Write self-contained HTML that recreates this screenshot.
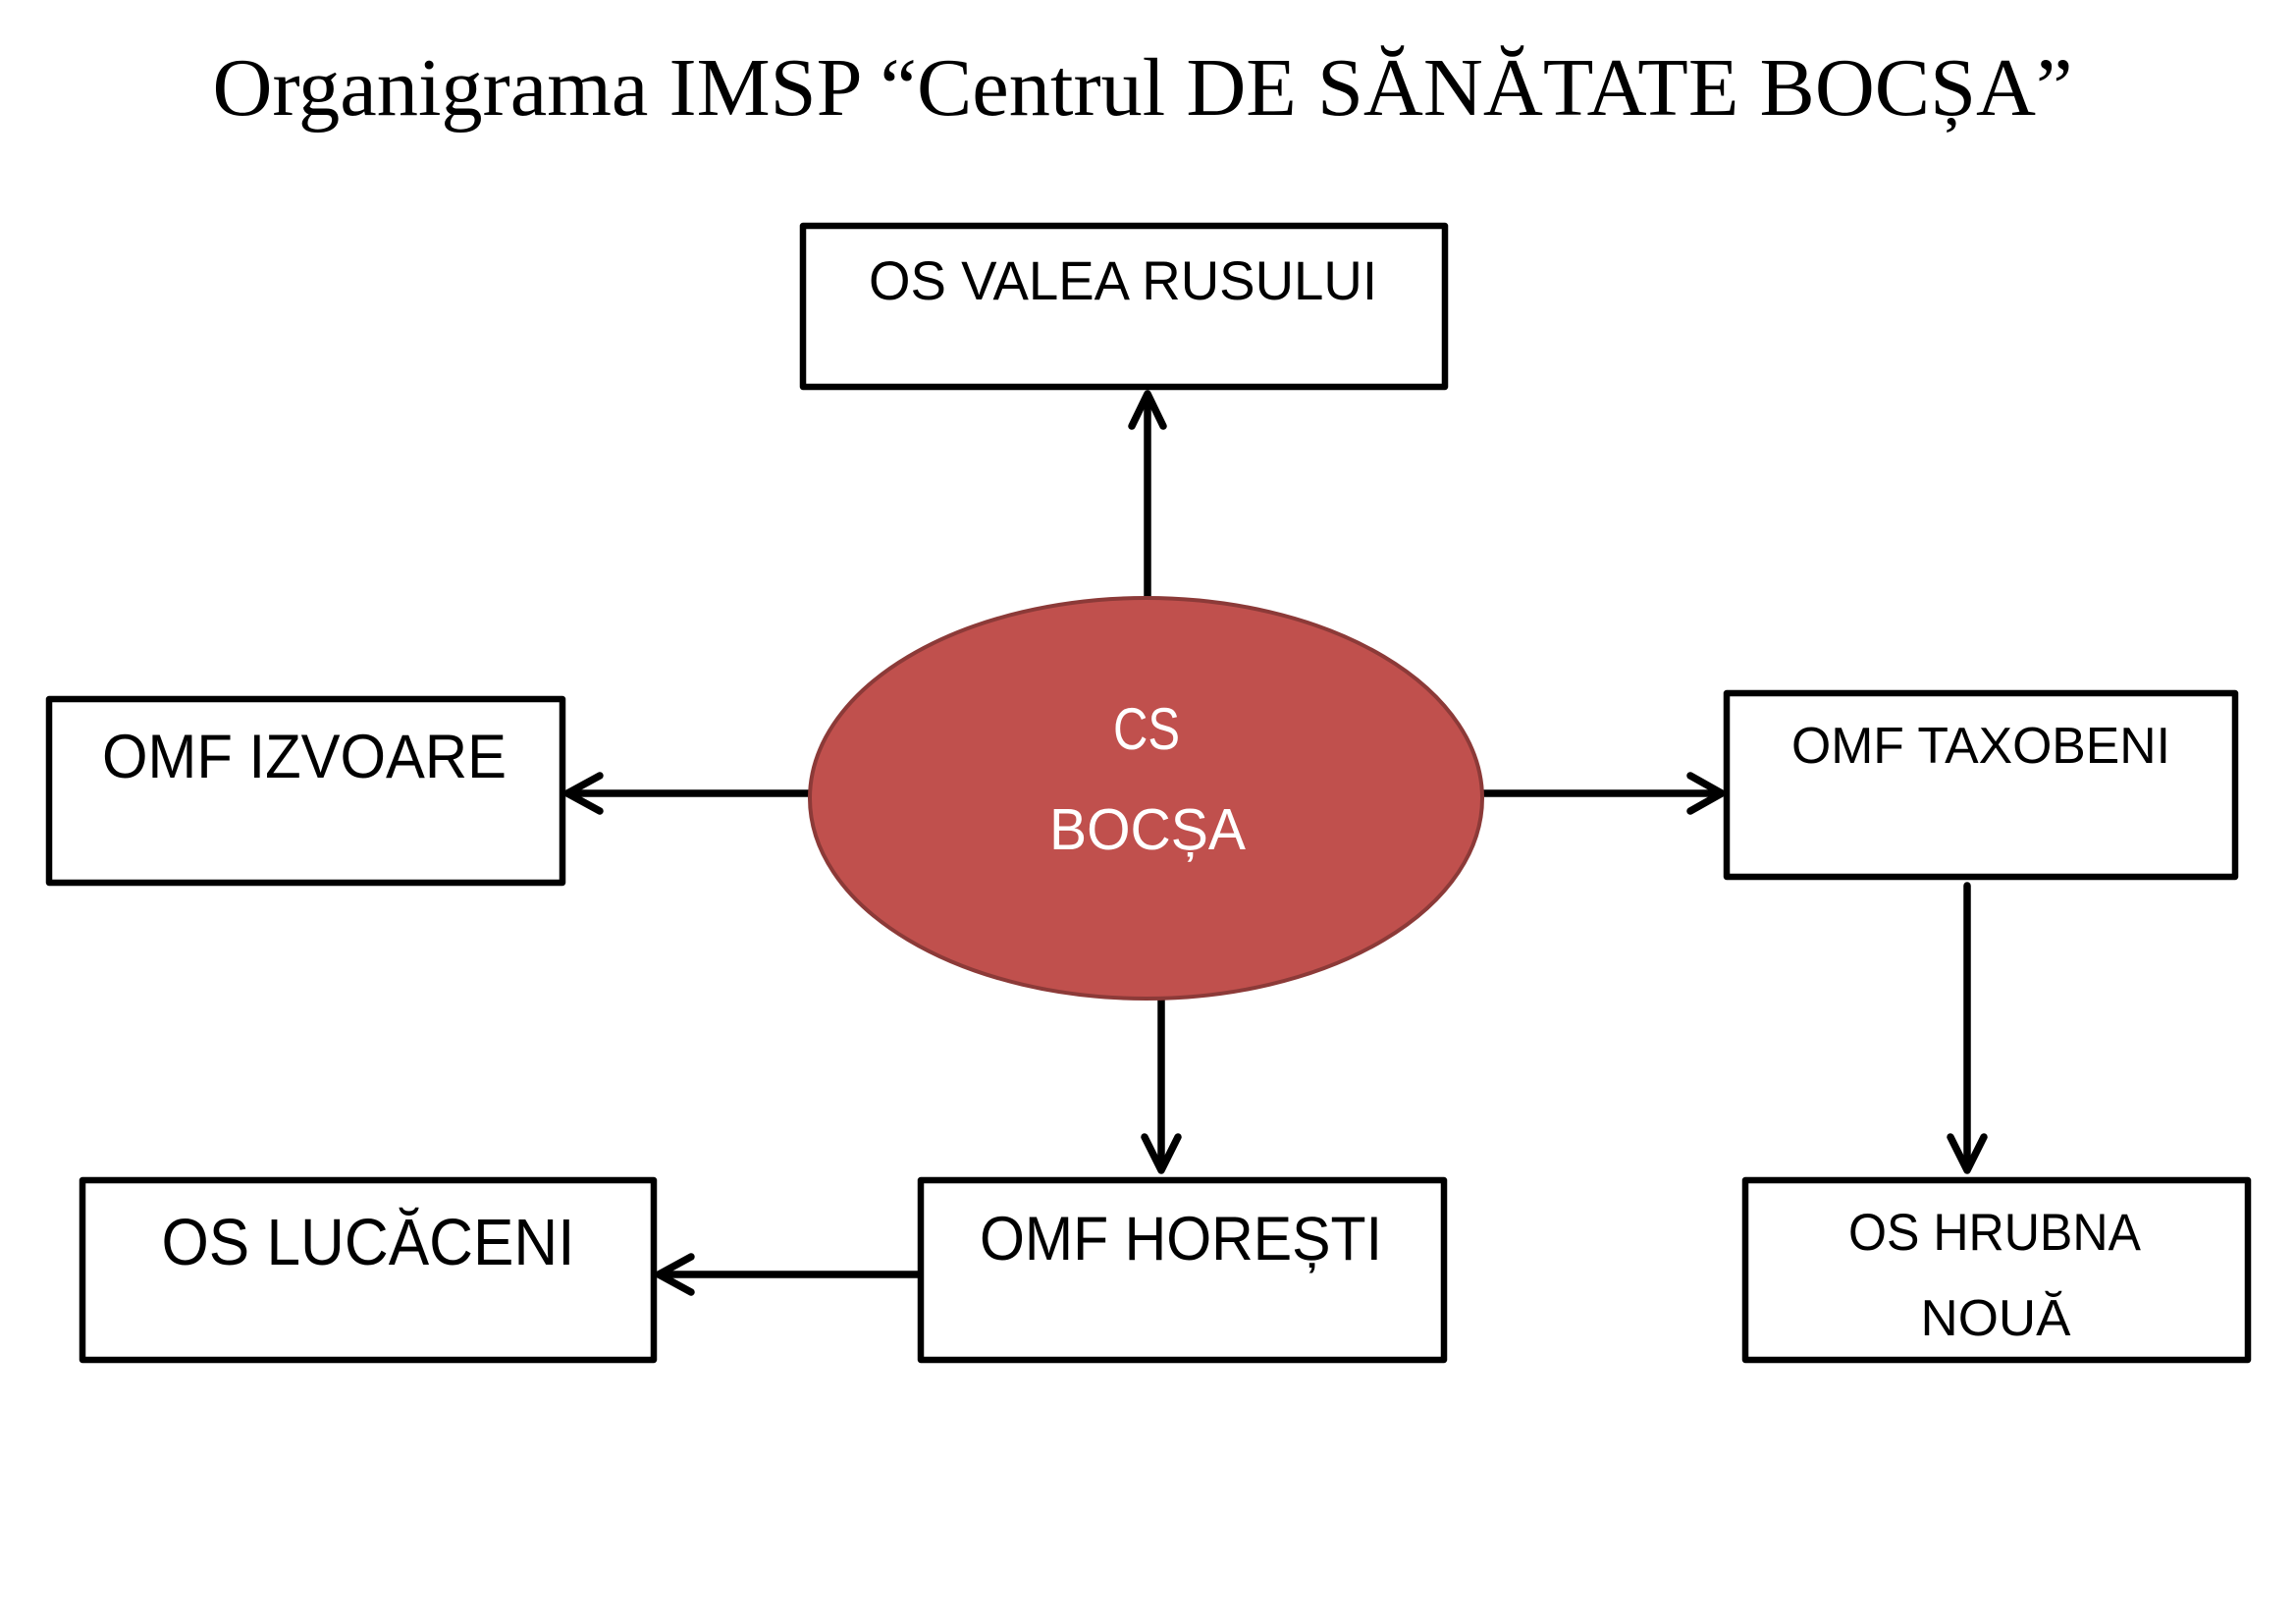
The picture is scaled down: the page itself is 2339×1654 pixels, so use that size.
<!DOCTYPE html>
<html>
<head>
<meta charset="utf-8">
<style>
  html,body{margin:0;padding:0;background:#fff;}
  svg{display:block;}
  .t{font-family:"Liberation Sans",sans-serif;fill:#000;}
</style>
</head>
<body>
<svg width="2339" height="1654" viewBox="0 0 2339 1654" xmlns="http://www.w3.org/2000/svg">
  <rect width="2339" height="1654" fill="#fff"/>

  <!-- Title -->
  <text x="1164" y="117" text-anchor="middle" font-family="'Liberation Serif',serif" font-size="84" textLength="1895" lengthAdjust="spacingAndGlyphs" fill="#000">Organigrama IMSP “Centrul DE SĂNĂTATE BOCȘA”</text>

  <!-- Boxes -->
  <g fill="#fff" stroke="#000" stroke-width="6.5" stroke-linejoin="round">
    <rect x="818" y="230" width="654" height="164"/>
    <rect x="50" y="712" width="523" height="187"/>
    <rect x="1759" y="706" width="518" height="187"/>
    <rect x="84" y="1202" width="582" height="183"/>
    <rect x="938" y="1202" width="533" height="183"/>
    <rect x="1778" y="1202" width="512" height="183"/>
  </g>

  <!-- Connectors -->
  <g fill="none" stroke="#000" stroke-width="7.5" stroke-linecap="round" stroke-linejoin="round">
    <!-- up to VALEA RUSULUI -->
    <line x1="1169" y1="612" x2="1169" y2="403"/>
    <polyline points="1153,434 1169,401 1185,434"/>
    <!-- left to IZVOARE -->
    <line x1="826" y1="808" x2="580" y2="808"/>
    <polyline points="611,790 578,808 611,826"/>
    <!-- right to TAXOBENI -->
    <line x1="1508" y1="808" x2="1752" y2="808"/>
    <polyline points="1722,790 1754,808 1722,826"/>
    <!-- down to HORESTI -->
    <line x1="1183" y1="1016" x2="1183" y2="1190"/>
    <polyline points="1166,1158 1183,1192 1200,1158"/>
    <!-- TAXOBENI down to HRUBNA -->
    <line x1="2004" y1="902" x2="2004" y2="1190"/>
    <polyline points="1987,1158 2004,1192 2021,1158"/>
    <!-- HORESTI left to LUCACENI -->
    <line x1="935" y1="1298" x2="673" y2="1298"/>
    <polyline points="704,1280 671,1298 704,1316"/>
  </g>

  <!-- Central ellipse -->
  <ellipse cx="1167.5" cy="813" rx="342.5" ry="204" fill="#c0504d" stroke="#8c3a38" stroke-width="4"/>

  <!-- Labels -->
  <text class="t" x="1144" y="305" text-anchor="middle" font-size="56" textLength="518" lengthAdjust="spacingAndGlyphs">OS VALEA RUSULUI</text>
  <text class="t" x="310" y="792" text-anchor="middle" font-size="63" textLength="412" lengthAdjust="spacingAndGlyphs">OMF IZVOARE</text>
  <text class="t" x="2018" y="777" text-anchor="middle" font-size="52" textLength="386" lengthAdjust="spacingAndGlyphs">OMF TAXOBENI</text>
  <text class="t" x="1168" y="763" text-anchor="middle" font-size="60" textLength="68" lengthAdjust="spacingAndGlyphs" style="fill:#fff">CS</text>
  <text class="t" x="1169" y="865" text-anchor="middle" font-size="59" textLength="200" lengthAdjust="spacingAndGlyphs" style="fill:#fff">BOCȘA</text>
  <text class="t" x="375" y="1288" text-anchor="middle" font-size="67" textLength="421" lengthAdjust="spacingAndGlyphs">OS LUCĂCENI</text>
  <text class="t" x="1203" y="1283" text-anchor="middle" font-size="63" textLength="410" lengthAdjust="spacingAndGlyphs">OMF HOREȘTI</text>
  <text class="t" x="2032" y="1273" text-anchor="middle" font-size="53" textLength="298" lengthAdjust="spacingAndGlyphs">OS HRUBNA</text>
  <text class="t" x="2033" y="1360" text-anchor="middle" font-size="52" textLength="153" lengthAdjust="spacingAndGlyphs">NOUĂ</text>
</svg>
</body>
</html>
